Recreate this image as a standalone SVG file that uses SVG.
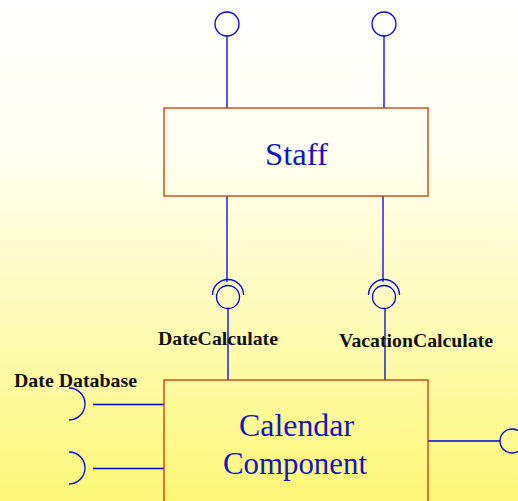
<svg xmlns="http://www.w3.org/2000/svg" width="518" height="501" viewBox="0 0 518 501">
  <defs>
    <linearGradient id="bg" x1="0" y1="0" x2="0" y2="1">
      <stop offset="0" stop-color="#ffffff"/>
      <stop offset="0.3" stop-color="#fffff2"/>
      <stop offset="1" stop-color="#fcf777"/>
    </linearGradient>
    <style>
      .box { fill: none; stroke: #c03a00; stroke-width: 1.3; }
      .wire { fill: none; stroke: #0000e0; stroke-width: 1.3; }
      .title { font-family: "Liberation Serif", "DejaVu Serif", serif; font-size: 32px; fill: #1414c8; text-anchor: middle; }
      .label { font-family: "Liberation Serif", "DejaVu Serif", serif; font-size: 19px; font-weight: bold; fill: #111111; }
    </style>
  </defs>

  <rect x="0" y="0" width="518" height="501" fill="url(#bg)"/>

  <!-- connectors -->
  <g id="connectors">
    <!-- provided interfaces of Staff -->
    <circle class="wire" cx="227" cy="24" r="12"/>
    <line class="wire" x1="227" y1="36" x2="227" y2="108"/>
    <circle class="wire" cx="384" cy="24" r="12"/>
    <line class="wire" x1="384" y1="36" x2="384" y2="108"/>

    <!-- Staff requires DateCalculate -->
    <line class="wire" x1="227" y1="196" x2="227" y2="282"/>
    <path class="wire" d="M212.5,295 A15.5,15.5 0 0 1 243.5,295"/>
    <circle class="wire" cx="228" cy="297" r="11.5"/>
    <line class="wire" x1="228" y1="308.5" x2="228" y2="380"/>

    <!-- Staff requires VacationCalculate -->
    <line class="wire" x1="383" y1="196" x2="383" y2="282"/>
    <path class="wire" d="M368.5,295 A15.5,15.5 0 0 1 399.5,295"/>
    <circle class="wire" cx="384" cy="297" r="11.5"/>
    <line class="wire" x1="385" y1="308.5" x2="385" y2="380"/>

    <!-- Calendar Component required interfaces -->
    <path class="wire" d="M69,388 A16,16 0 0 1 69,420"/>
    <line class="wire" x1="93" y1="404.5" x2="164" y2="404.5"/>
    <path class="wire" d="M69,452 A16,16 0 0 1 69,484"/>
    <line class="wire" x1="93" y1="468.5" x2="164" y2="468.5"/>

    <!-- Calendar Component provided interface -->
    <line class="wire" x1="428" y1="441" x2="500" y2="441"/>
    <circle class="wire" cx="512" cy="441" r="12"/>
  </g>

  <g id="staff">
    <rect class="box" x="164" y="108" width="264" height="88"/>
    <text class="title" x="296.5" y="165" textLength="63" lengthAdjust="spacingAndGlyphs">Staff</text>
  </g>

  <g id="calendar-component">
    <rect class="box" x="164" y="380" width="264" height="140"/>
    <text class="title" x="296.5" y="436" textLength="115" lengthAdjust="spacingAndGlyphs">Calendar</text>
    <text class="title" x="295" y="474" textLength="144" lengthAdjust="spacingAndGlyphs">Component</text>
  </g>

  <g id="labels">
    <text class="label" x="158" y="345" textLength="120" lengthAdjust="spacingAndGlyphs">DateCalculate</text>
    <text class="label" x="339" y="347" textLength="154" lengthAdjust="spacingAndGlyphs">VacationCalculate</text>
    <text class="label" x="14" y="387" textLength="123" lengthAdjust="spacingAndGlyphs">Date Database</text>
  </g>
</svg>
